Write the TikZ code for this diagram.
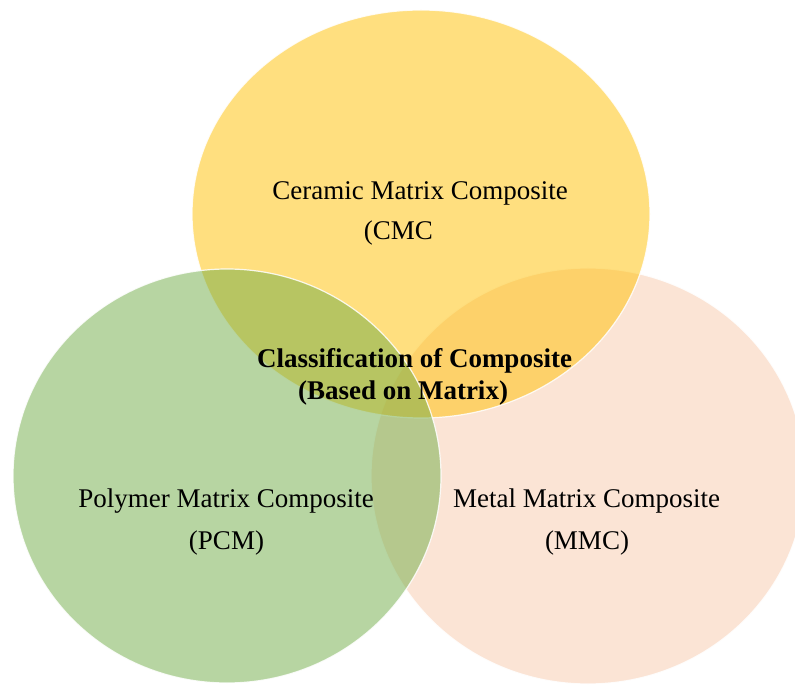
\documentclass[tikz,border=0pt]{standalone}
\usepackage{fontspec}
\setmainfont{Liberation Serif}
\definecolor{cgold}{HTML}{FFC000}
\definecolor{cgreen}{HTML}{70AD47}
\definecolor{cpeach}{HTML}{F8CBAD}
\begin{document}
\begin{tikzpicture}[x=1pt,y=1pt,
  venn/.style={draw=white, line width=1.2pt, draw opacity=0.85, fill opacity=0.5},
  lbl/.style={anchor=base, inner sep=0pt, text=black, font=\fontsize{27}{32}\selectfont},
  blbl/.style={lbl, font=\fontsize{27}{32}\selectfont\bfseries}]
\useasboundingbox (0,0) rectangle (795,686);
\clip (0,0) rectangle (795,686);
\fill[white] (0,0) rectangle (795,686);
% circles (bottom to top)
\path[venn, fill=cpeach] (588,210) ellipse [x radius=217, y radius=208];
\path[venn, fill=cgold] (421,472) ellipse [x radius=229, y radius=204];
\path[venn, fill=cgreen] (227,210) ellipse [x radius=214, y radius=207];
% texts
\node[lbl] (cmc1) at (420,486) {Ceramic Matrix Composite};
\node[lbl] (cmc2) at (398.5,446) {(CMC};
\node[blbl] (ttl1) at (414.5,318) {Classification of Composite};
\node[blbl] (ttl2) at (403,286) {(Based on Matrix)};
\node[lbl] (pcm1) at (226,179) {Polymer Matrix Composite};
\node[lbl] (pcm2) at (226.5,137) {(PCM)};
\node[lbl] (mmc1) at (586.5,179) {Metal Matrix Composite};
\node[lbl] (mmc2) at (587,137) {(MMC)};
\end{tikzpicture}
\end{document}
